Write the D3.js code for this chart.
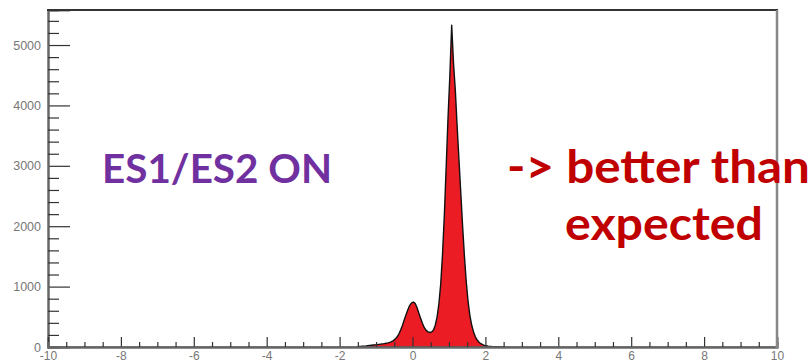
<!DOCTYPE html>
<html><head><meta charset="utf-8">
<script src="https://cdn.jsdelivr.net/npm/d3@7/dist/d3.min.js"></script>
<style>html,body{margin:0;padding:0;background:#fff;}svg{display:block;}</style>
</head><body>
<svg id="c" width="812" height="362"></svg>
<script>
// ---- data ----
const binStart = -1.5;
const binWidth = 0.05;
const counts = [8,10,12,14,16,20,24,28,32,36,40,44,48,52,56,62,68,76,88,105,
  130,165,215,280,360,450,540,620,690,730,745,720,650,560,470,390,320,275,250,240,
  250,280,360,500,720,1050,1550,2200,3000,3800,4500,5330,4700,4250,3650,3100,2550,2000,1500,1080,
  750,520,360,250,170,115,80,55,38,28,20,15,11,8,6,5,4,3,2,2];
const xMajor = [-10,-8,-6,-4,-2,0,2,4,6,8,10];
const yMajor = [0,1000,2000,3000,4000,5000];
const xDomain = [-10,10];
const yDomain = [0,5580];
const label1 = "ES1/ES2 ON";
const label2 = ["-> better than","expected"];

// ---- chart ----
const svg = d3.select("#c");
const L=48,R=777,T=10,B=347;
const x = d3.scaleLinear().domain(xDomain).range([L,R]);
const y = d3.scaleLinear().domain(yDomain).range([B,T]);

const pts = counts.map((v,i)=>[binStart+(i+0.5)*binWidth, v]);
pts.unshift([binStart,0]); pts.push([binStart+counts.length*binWidth,0]);

svg.append("path").datum(pts)
  .attr("d", d3.area().x(d=>x(d[0])).y0(y(0)).y1(d=>y(d[1])))
  .attr("fill","#ec1c24");
svg.append("path").datum(pts)
  .attr("d", d3.line().x(d=>x(d[0])).y(d=>y(d[1])))
  .attr("fill","none").attr("stroke","#111").attr("stroke-width",1.4).attr("stroke-linejoin","round");

svg.append("line").attr("x1",x(-10)).attr("x2",x(10)).attr("y1",y(0)).attr("y2",y(0))
  .attr("stroke","#222").attr("stroke-width",1);

const fnt = "'Liberation Sans', Arial, sans-serif";
// y axis
const yMinor = d3.range(0,5580,200).filter(v=>v%1000!==0);
const gy = svg.append("g").attr("transform",`translate(${L},0)`);
gy.call(d3.axisLeft(y).tickValues(yMajor).tickSize(-22).tickPadding(7).tickFormat(d=>String(d)));
gy.append("g").call(d3.axisLeft(y).tickValues(yMinor).tickSize(-11).tickFormat(""));
// x axis
const xMinor = d3.range(-10,10.01,0.5).filter(v=>Math.abs(v%2)>1e-9);
const gx = svg.append("g").attr("transform",`translate(0,${B})`);
gx.call(d3.axisBottom(x).tickValues(xMajor).tickSize(-10).tickPadding(4).tickFormat(d=>String(d)));
gx.append("g").call(d3.axisBottom(x).tickValues(xMinor).tickSize(-5).tickFormat(""));

svg.selectAll(".domain").attr("stroke","#666").attr("stroke-width",2);
svg.selectAll(".tick line").attr("stroke","#333").attr("stroke-width",1.2);
svg.selectAll(".tick text").attr("fill","#777").attr("font-family",fnt);
gy.selectAll(".tick text").attr("font-size",12.5);
gx.selectAll(".tick text").attr("font-size",12);

// frame
svg.append("line").attr("x1",L-1).attr("x2",R+1).attr("y1",T).attr("y2",T).attr("stroke","#333").attr("stroke-width",2);
svg.append("line").attr("x1",R).attr("x2",R).attr("y1",T).attr("y2",B+1).attr("stroke","#888").attr("stroke-width",2.5);

// annotations
const tf = "Lato, 'Open Sans', sans-serif";
svg.append("text").attr("x",102).attr("y",183).text(label1)
  .attr("font-family",tf).attr("font-weight","bold").attr("font-size",40)
  .attr("fill","#7030a0").attr("textLength",230).attr("lengthAdjust","spacingAndGlyphs");
svg.append("text").attr("x",507).attr("y",183).text(label2[0])
  .attr("font-family",tf).attr("font-weight","bold").attr("font-size",45)
  .attr("fill","#c00000").attr("textLength",303).attr("lengthAdjust","spacingAndGlyphs");
svg.append("text").attr("x",565).attr("y",240).text(label2[1])
  .attr("font-family",tf).attr("font-weight","bold").attr("font-size",45)
  .attr("fill","#c00000").attr("textLength",198).attr("lengthAdjust","spacingAndGlyphs");
</script>
</body></html>
